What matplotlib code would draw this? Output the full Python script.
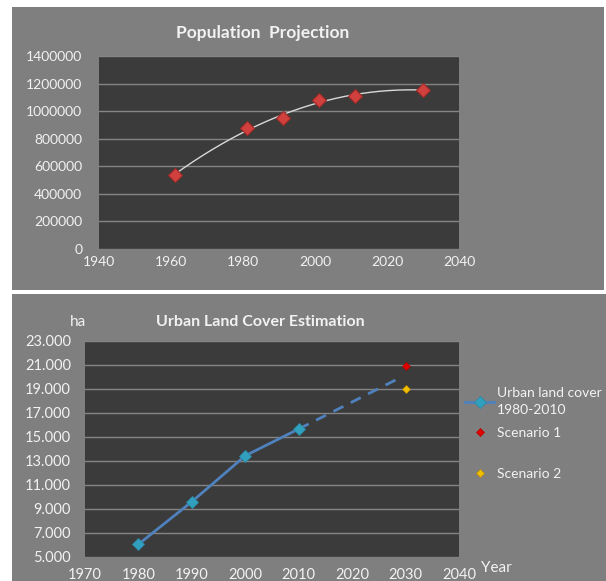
import numpy as np
import matplotlib
matplotlib.use("Agg")
import matplotlib.pyplot as plt
from matplotlib.patches import Rectangle
from matplotlib.ticker import FuncFormatter, MultipleLocator, FixedLocator

plt.rcParams['font.family'] = ['Lato', 'DejaVu Sans']

# population projection
pop_years = [1961, 1981, 1991, 2001, 2011, 2030]
pop_values = [538000, 876000, 948000, 1081000, 1110000, 1155000]

# urban land cover
urban_years = [1980, 1990, 2000, 2010]
urban_values = [6060, 9610, 13440, 15670]
trend_years = [2010, 2028.4]
trend_values = [15670, 19810]
scenario1_year, scenario1_value = [2030], [20940]
scenario2_year, scenario2_value = [2030], [18970]
urban_yticks = [5000, 7000, 9000, 11000, 13000, 15000, 17000, 19000, 21000, 23000]

PANEL = '#7f7f7f'
PLOT_BG = '#3b3b3b'
GRID = '#858585'
TXT = '#f2f2f2'

fig = plt.figure(figsize=(6.06, 5.81), dpi=100, facecolor='white')

# gray chart-area panels
fig.patches.append(Rectangle((12 / 606, 1 - 290 / 581), 592 / 606, 283 / 581,
                             transform=fig.transFigure, facecolor=PANEL, zorder=-10))
fig.patches.append(Rectangle((12 / 606, 0), 594 / 606, 287 / 581,
                             transform=fig.transFigure, facecolor=PANEL, zorder=-10))


def style_axes(ax, size):
    ax.set_facecolor(PLOT_BG)
    for s in ax.spines.values():
        s.set_visible(False)
    ax.tick_params(length=0, colors=TXT, labelsize=size)
    ax.grid(axis='y', color=GRID, linewidth=1.0)
    ax.set_axisbelow(True)


# ---- top: population projection
ax1 = fig.add_axes([99 / 606, 1 - 249 / 581, 360 / 606, 193 / 581])
style_axes(ax1, 10)
ax1.set_xlim(1940, 2040)
ax1.set_ylim(0, 1400000)
ax1.xaxis.set_major_locator(MultipleLocator(20))
ax1.yaxis.set_major_locator(MultipleLocator(200000))
ax1.yaxis.set_major_formatter(FuncFormatter(lambda v, p: f'{int(v)}'))
ax1.tick_params(axis='x', pad=5)
ax1.tick_params(axis='y', pad=12)

coef = np.polyfit(pop_years, pop_values, 2)
xs = np.linspace(min(pop_years), max(pop_years), 200)
ax1.plot(xs, np.polyval(coef, xs), color='#d9d9d9', linewidth=1.0, zorder=2)
ax1.plot(pop_years, pop_values, linestyle='none', marker='D', markersize=7.5,
         markerfacecolor='#d0403c', markeredgecolor='#a02a28', markeredgewidth=0.8, zorder=3)
fig.text(263 / 606, 1 - 33 / 581, 'Population  Projection', color=TXT, fontsize=12.5,
         fontweight='bold', ha='center', va='center')

# ---- bottom: urban land cover
ax2 = fig.add_axes([85 / 606, 1 - 557 / 581, 374 / 606, 216 / 581])
style_axes(ax2, 10.5)
ax2.set_xlim(1970, 2040)
ax2.set_ylim(5000, 23000)
ax2.xaxis.set_major_locator(MultipleLocator(10))
ax2.yaxis.set_major_locator(FixedLocator(urban_yticks))
ax2.yaxis.set_major_formatter(FuncFormatter(lambda v, p: f'{int(v):,}'.replace(',', '.')))
ax2.tick_params(axis='x', pad=8)
ax2.tick_params(axis='y', pad=10)

ax2.plot(trend_years, trend_values, color='#4f81bd', linewidth=2, linestyle=(0, (4, 3)), zorder=2)
urban_line, = ax2.plot(urban_years, urban_values, color='#4f81bd', linewidth=2, marker='D',
                       markersize=6, markerfacecolor='#31a0be', markeredgecolor='#2a8aa5',
                       markeredgewidth=0.6, label='Urban land cover\n1980-2010', zorder=3)
s1, = ax2.plot(scenario1_year, scenario1_value, linestyle='none', marker='D', markersize=4.5,
               markerfacecolor='#e00000', markeredgecolor='#b00000', markeredgewidth=0.5,
               label='Scenario 1', zorder=3)
s2, = ax2.plot(scenario2_year, scenario2_value, linestyle='none', marker='D', markersize=4.5,
               markerfacecolor='#f0c000', markeredgecolor='#c09000', markeredgewidth=0.5,
               label='Scenario 2', zorder=3)

leg_kw = dict(loc='upper left', frameon=False, fontsize=10, labelcolor=TXT,
              handlelength=2.1, handletextpad=0.2, borderaxespad=0.0, borderpad=0.0)
leg1 = ax2.legend(handles=[urban_line, s1], bbox_to_anchor=(1.016, 0.786),
                  labelspacing=0.75, **leg_kw)
leg1.get_texts()[0].set_linespacing(1.5)
ax2.add_artist(leg1)
ax2.legend(handles=[s2], bbox_to_anchor=(1.016, 0.411), **leg_kw)

fig.text(260 / 606, 1 - 322 / 581, 'Urban Land Cover Estimation', color=TXT, fontsize=11.5,
         fontweight='bold', ha='center', va='center')
fig.text(78 / 606, 1 - 322 / 581, 'ha', color=TXT, fontsize=11, ha='center', va='center')
fig.text(496 / 606, 1 - 568 / 581, 'Year', color=TXT, fontsize=11, ha='center', va='center')

fig.savefig('out.png', dpi=100, facecolor='white')
